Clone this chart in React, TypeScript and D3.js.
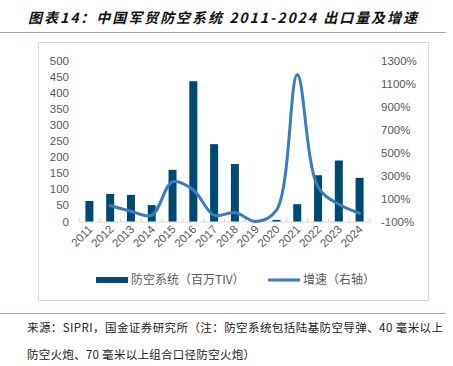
import React, { useEffect, useRef } from 'react'
import * as d3 from 'd3'

// values
const years = ['2011', '2012', '2013', '2014', '2015', '2016', '2017', '2018', '2019', '2020', '2021', '2022', '2023', '2024']
const exportTIV = [64, 86, 83, 51, 161, 437, 241, 179, 0, 5, 54, 144, 190, 136]
const growthYears = ['2012', '2013', '2014', '2015', '2016', '2017', '2018', '2019', '2020', '2021', '2022', '2023', '2024']
const growthPct = [40, -10, -45, 245, 175, -45, -22, -100, 0, 1180, 200, 50, -28]
const leftTicks = [0, 50, 100, 150, 200, 250, 300, 350, 400, 450, 500]
const rightTicks = [-100, 100, 300, 500, 700, 900, 1100, 1300]

const W = 453
const H = 366
const BAR = '#004a72'
const LINE = '#3b7cc0'
const GREY = '#595959'
const CJK = '"Noto Sans CJK SC", "Liberation Sans", sans-serif'
const NUM = '"Liberation Sans", Arial, sans-serif'

const App = () => {
  const ref = useRef<SVGSVGElement>(null)

  useEffect(() => {
    const svg = d3.select(ref.current)
    svg.selectAll('*').remove()

    // title + rules
    svg.append('text')
      .attr('x', 28).attr('y', 23)
      .attr('font-family', CJK).attr('font-size', 14)
      .attr('font-weight', 'bold').attr('font-style', 'italic')
      .attr('textLength', 389).attr('lengthAdjust', 'spacing')
      .attr('fill', '#111')
      .text('图表14：中国军贸防空系统 2011-2024 出口量及增速')
    svg.append('line').attr('x1', 0).attr('x2', 446).attr('y1', 32.5).attr('y2', 32.5)
      .attr('stroke', '#9aabbf').attr('stroke-width', 1)
    svg.append('line').attr('x1', 0).attr('x2', 446).attr('y1', 313.5).attr('y2', 313.5)
      .attr('stroke', '#9aabbf').attr('stroke-width', 1)

    // chart frame
    svg.append('rect').attr('x', 38.5).attr('y', 42.5).attr('width', 390).attr('height', 258)
      .attr('fill', 'white').attr('stroke', '#d9d9d9')

    const x = d3.scaleBand().domain(years).range([79, 370])
    const yL = d3.scaleLinear().domain([0, 500]).range([221.5, 61])
    const yR = d3.scaleLinear().domain([-100, 1300]).range([221.5, 61])

    // left axis labels
    svg.append('g').selectAll('text').data(leftTicks).join('text')
      .attr('x', 69).attr('y', d => yL(d)).attr('dy', '0.35em')
      .attr('text-anchor', 'end').attr('font-family', NUM).attr('font-size', 11.5)
      .attr('fill', GREY).text(d => d)

    // right axis labels
    svg.append('g').selectAll('text').data(rightTicks).join('text')
      .attr('x', 381).attr('y', d => yR(d)).attr('dy', '0.35em')
      .attr('font-family', NUM).attr('font-size', 11.5)
      .attr('fill', GREY).text(d => d + '%')

    // category axis line + ticks between categories
    const base = yL(0) + 0.5
    svg.append('line').attr('x1', 79).attr('x2', 370).attr('y1', base).attr('y2', base)
      .attr('stroke', '#d9d9d9')
    svg.append('g').selectAll('line').data(years.concat(['end'])).join('line')
      .attr('x1', (d, i) => 79 + i * x.step()).attr('x2', (d, i) => 79 + i * x.step())
      .attr('y1', base - 4).attr('y2', base)
      .attr('stroke', '#d9d9d9')

    // bars
    const bw = 8
    svg.append('g').selectAll('rect').data(exportTIV).join('rect')
      .attr('x', (d, i) => x(years[i])! + x.bandwidth() / 2 - bw / 2)
      .attr('y', d => yL(d))
      .attr('width', bw)
      .attr('height', d => yL(0) - yL(d))
      .attr('fill', BAR)

    // growth line (right axis)
    const line = d3.line<number>()
      .x((d, i) => x(growthYears[i])! + x.bandwidth() / 2)
      .y(d => yR(d))
      .curve(d3.curveCatmullRom)
    svg.append('path').datum(growthPct).attr('d', line)
      .attr('fill', 'none').attr('stroke', LINE).attr('stroke-width', 3)
      .attr('stroke-linecap', 'round')

    // category labels
    svg.append('g').selectAll('text').data(years).join('text')
      .attr('transform', d => `translate(${x(d)! + x.bandwidth() / 2 + 4},${base + 8}) rotate(-45)`)
      .attr('text-anchor', 'end').attr('font-family', NUM).attr('font-size', 11.5)
      .attr('fill', GREY).text(d => d)

    // legend
    const lg = svg.append('g')
    lg.append('rect').attr('x', 96).attr('y', 277).attr('width', 32).attr('height', 6).attr('fill', BAR)
    lg.append('text').attr('x', 131).attr('y', 280).attr('dy', '0.35em')
      .attr('font-family', CJK).attr('font-size', 12).attr('fill', GREY)
      .text('防空系统（百万TIV）')
    lg.append('line').attr('x1', 268).attr('x2', 300).attr('y1', 280).attr('y2', 280)
      .attr('stroke', LINE).attr('stroke-width', 3)
    lg.append('text').attr('x', 303).attr('y', 280).attr('dy', '0.35em')
      .attr('font-family', CJK).attr('font-size', 12).attr('fill', GREY)
      .text('增速（右轴）')

    // source note
    svg.append('text').attr('x', 27).attr('y', 332)
      .attr('font-family', CJK).attr('font-size', 11.5).attr('fill', '#222')
      .attr('textLength', 416).attr('lengthAdjust', 'spacing')
      .text('来源：SIPRI，国金证券研究所（注：防空系统包括陆基防空导弹、40 毫米以上')
    svg.append('text').attr('x', 27).attr('y', 359)
      .attr('font-family', CJK).attr('font-size', 11.5).attr('fill', '#222')
      .attr('textLength', 228).attr('lengthAdjust', 'spacing')
      .text('防空火炮、70 毫米以上组合口径防空火炮）')
  }, [])

  return (
    <svg ref={ref} width={W} height={H}
      style={{ position: 'absolute', left: 0, top: 0, background: 'white' }} />
  )
}

export default App
